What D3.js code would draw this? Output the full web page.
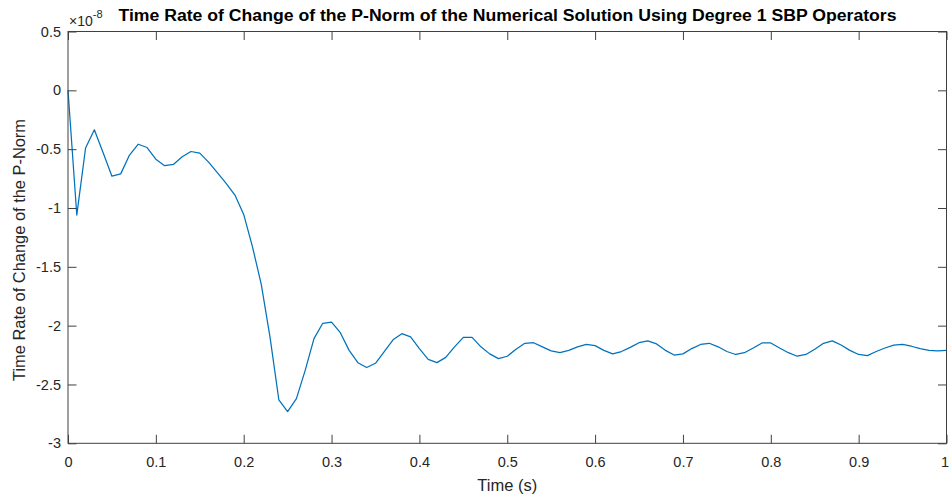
<!DOCTYPE html>
<html>
<head>
<meta charset="utf-8">
<script src="https://cdn.jsdelivr.net/npm/d3@7"></script>
<style>
  html, body { margin: 0; padding: 0; background: #fff; }
  svg { display: block; font-family: "Liberation Sans", Arial, Helvetica, sans-serif; }
</style>
</head>
<body>
<svg id="chart" width="949" height="497"></svg>
<script>
// Sample spacing of the solver output (seconds)
const timeStep = 0.01;

// dP/dt values, in units of 1e-8, one per time step from t = 0 to t = 1
const rateValues = [
  0, -1.06, -0.49, -0.335, -0.53, -0.73, -0.71, -0.55, -0.458, -0.486,
  -0.585, -0.64, -0.63, -0.565, -0.52, -0.534, -0.61, -0.70, -0.79, -0.89,
  -1.055, -1.33, -1.65, -2.10, -2.63, -2.73, -2.62, -2.38, -2.11, -1.98,
  -1.97, -2.06, -2.21, -2.315, -2.356, -2.32, -2.22, -2.12, -2.068, -2.096,
  -2.195, -2.286, -2.314, -2.27, -2.18, -2.10, -2.10, -2.18, -2.24, -2.28,
  -2.26, -2.20, -2.15, -2.145, -2.18, -2.215, -2.23, -2.21, -2.18, -2.16,
  -2.17, -2.21, -2.24, -2.22, -2.185, -2.145, -2.13, -2.155, -2.21, -2.25,
  -2.24, -2.195, -2.16, -2.15, -2.18, -2.22, -2.245, -2.23, -2.19, -2.147,
  -2.147, -2.19, -2.23, -2.26, -2.245, -2.20, -2.15, -2.13, -2.165, -2.21,
  -2.245, -2.255, -2.22, -2.19, -2.165, -2.16, -2.175, -2.195, -2.21, -2.215,
  -2.21
];

// Axis ticks
const xTicks = [0, 0.1, 0.2, 0.3, 0.4, 0.5, 0.6, 0.7, 0.8, 0.9, 1];
const xTickLabels = ["0", "0.1", "0.2", "0.3", "0.4", "0.5", "0.6", "0.7", "0.8", "0.9", "1"];
const yTicks = [0.5, 0, -0.5, -1, -1.5, -2, -2.5, -3];
const yTickLabels = ["0.5", "0", "-0.5", "-1", "-1.5", "-2", "-2.5", "-3"];

const titleText = "Time Rate of Change of the P-Norm of the Numerical Solution Using Degree 1 SBP Operators";
const xLabelText = "Time (s)";
const yLabelText = "Time Rate of Change of the P-Norm";

const width = 949, height = 497;
const margin = { top: 31.5, right: 2.5, bottom: 53.7, left: 68 };
const axisColor = "#404040";
const textColor = "#262626";
const lineColor = "#0072BD";
const tickLen = 8.5;
const tickFont = 14.5;

const svg = d3.select("#chart");
const innerW = width - margin.left - margin.right;
const innerH = height - margin.top - margin.bottom;

const x = d3.scaleLinear().domain([0, 1]).range([margin.left, margin.left + innerW]);
const y = d3.scaleLinear().domain([-3, 0.5]).range([margin.top + innerH, margin.top]);

const series = rateValues.map((v, i) => ({ t: i * timeStep, v }));

// Data line
svg.append("path")
  .datum(series)
  .attr("fill", "none")
  .attr("stroke", lineColor)
  .attr("stroke-width", 1.25)
  .attr("stroke-linejoin", "round")
  .attr("d", d3.line().x(d => x(d.t)).y(d => y(d.v)));

// Box-style axes with inward ticks
function styleAxis(g) {
  g.select(".domain").remove();
  g.selectAll(".tick line").attr("stroke", axisColor).attr("stroke-width", 1);
  g.selectAll(".tick text")
    .attr("fill", textColor)
    .attr("font-size", tickFont);
}

const bottomAxis = svg.append("g")
  .attr("transform", `translate(0,${y(-3)})`)
  .call(d3.axisBottom(x).tickValues(xTicks)
    .tickFormat((d, i) => xTickLabels[i])
    .tickSize(-tickLen).tickPadding(13))
  .call(styleAxis);

// Keep the last tick label inside the page edge
bottomAxis.selectAll(".tick text")
  .filter(d => d === 1)
  .attr("dx", -2);

svg.append("g")
  .attr("transform", `translate(0,${y(0.5)})`)
  .call(d3.axisTop(x).tickValues(xTicks).tickFormat("").tickSize(-tickLen))
  .call(styleAxis);

svg.append("g")
  .attr("transform", `translate(${x(0)},0)`)
  .call(d3.axisLeft(y).tickValues(yTicks)
    .tickFormat((d, i) => yTickLabels[i])
    .tickSize(-tickLen).tickPadding(7))
  .call(styleAxis);

svg.append("g")
  .attr("transform", `translate(${x(1)},0)`)
  .call(d3.axisRight(y).tickValues(yTicks).tickFormat("").tickSize(-tickLen))
  .call(styleAxis);

// Frame
svg.append("rect")
  .attr("x", x(0)).attr("y", y(0.5))
  .attr("width", x(1) - x(0)).attr("height", y(-3) - y(0.5))
  .attr("fill", "none")
  .attr("stroke", axisColor)
  .attr("stroke-width", 1);

// Exponent multiplier
const expo = svg.append("text")
  .attr("x", x(0) + 1).attr("y", 25.5)
  .attr("fill", textColor)
  .attr("font-size", 14);
expo.append("tspan").text("\u00d710");
expo.append("tspan").attr("dy", -8).attr("font-size", 11).text("-8");

// Title
svg.append("text")
  .attr("x", 507.5).attr("y", 21)
  .attr("text-anchor", "middle")
  .attr("font-size", 16)
  .attr("font-weight", "bold")
  .attr("fill", "#000")
  .attr("textLength", 778)
  .attr("lengthAdjust", "spacingAndGlyphs")
  .text(titleText);

// Axis labels
svg.append("text")
  .attr("x", (x(0) + x(1)) / 2).attr("y", 491)
  .attr("text-anchor", "middle")
  .attr("font-size", 16.5)
  .attr("fill", textColor)
  .text(xLabelText);

svg.append("text")
  .attr("transform", `translate(25,250) rotate(-90)`)
  .attr("text-anchor", "middle")
  .attr("font-size", 16)
  .attr("fill", textColor)
  .attr("textLength", 262)
  .attr("lengthAdjust", "spacingAndGlyphs")
  .text(yLabelText);
</script>
</body>
</html>
